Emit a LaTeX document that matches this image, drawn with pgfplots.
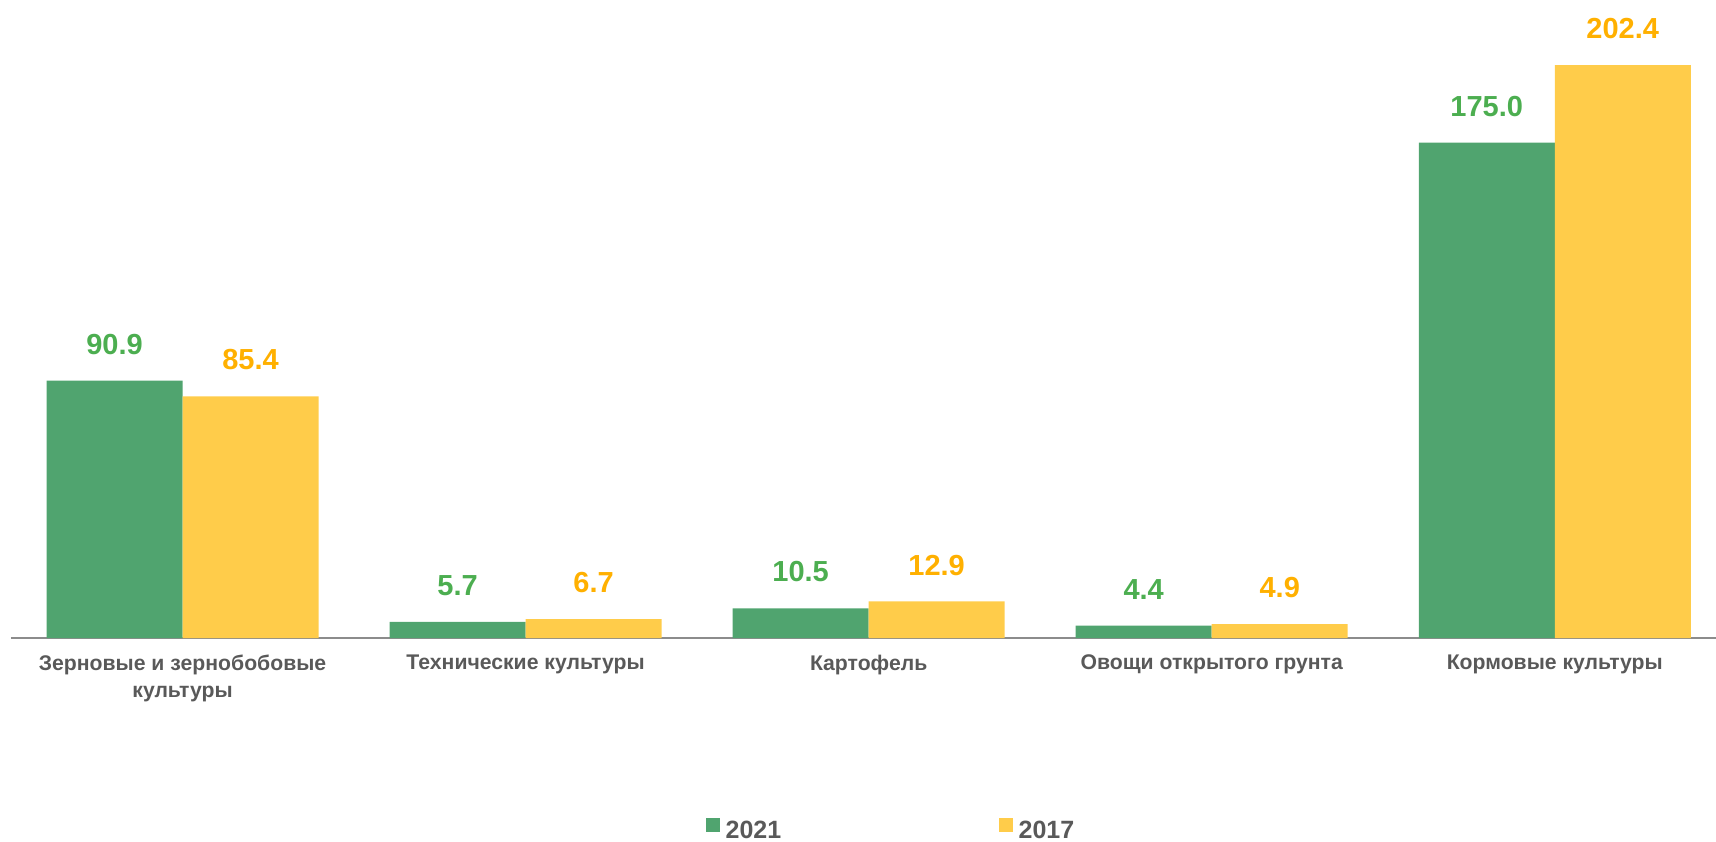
\documentclass[border=0pt]{standalone}
\usepackage{fontspec}
\setmainfont{Liberation Sans}
\usepackage{pgfplots}
\pgfplotsset{compat=1.18}
\definecolor{bargreen}{HTML}{50A46F}
\definecolor{baryellow}{HTML}{FFCC4A}
\definecolor{lblgreen}{HTML}{4CAE50}
\definecolor{lblorange}{HTML}{FFB000}
\definecolor{txtgray}{HTML}{595959}
\definecolor{axgray}{HTML}{8C8C8C}
\begin{document}
\begin{tikzpicture}
\useasboundingbox (0,0) rectangle (858pt,420.5pt);
\begin{axis}[
  at={(5.5pt,101.5pt)}, anchor=south west,
  scale only axis, width=852.5pt, height=319pt,
  ybar=0pt, bar width=68pt,
  xmin=-0.5, xmax=4.47, ymin=0, ymax=225.4,
  axis y line=none, axis x line*=bottom,
  x axis line style={draw=axgray, line width=0.9pt, -},
  xtick={0,1,2,3,4},
  xticklabels={{Зерновые и зернобобовые\\культуры},{Технические культуры},{Картофель},{Овощи открытого грунта},{Кормовые культуры}},
  major tick length=0pt,
  xticklabel style={font=\bfseries\fontsize{10.6}{13.2}\selectfont, text=txtgray, align=center, yshift=-5pt},
  /pgf/number format/assume math mode=true,
  point meta=y,
  nodes near coords={\pgfmathprintnumber[fixed,fixed zerofill,precision=1]{\pgfplotspointmeta}},
  every node near coord/.append style={font=\bfseries\fontsize{14.5}{17}\selectfont, yshift=9.5pt},
  legend image code/.code={\fill[#1] (0pt,0pt) rectangle (7pt,7pt);},
  legend style={draw=none, fill=none, legend columns=2, at={(0.4072,-0.3201)}, anchor=south west,
    inner sep=0pt, font=\bfseries\fontsize{12.5}{15}\selectfont, text=txtgray,
    column sep=3pt, /tikz/every even column/.append style={column sep=108.7pt},
    nodes={inner sep=0pt}},
]
\addplot[fill=bargreen, draw=none, every node near coord/.append style={text=lblgreen}]
  coordinates {(0,90.9) (1,5.7) (2,10.5) (3,4.4) (4,175.0)};
\addplot[fill=baryellow, draw=none, every node near coord/.append style={text=lblorange}]
  coordinates {(0,85.4) (1,6.7) (2,12.9) (3,4.9) (4,202.4)};
\legend{2021,2017}
\end{axis}
\end{tikzpicture}
\end{document}
